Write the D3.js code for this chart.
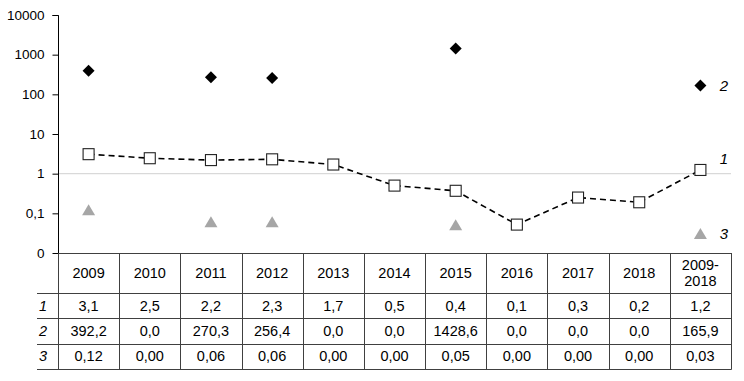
<!DOCTYPE html>
<html><head><meta charset="utf-8">
<script src="https://cdn.jsdelivr.net/npm/d3@7"></script>
<style>body{margin:0;background:#fff;} text{font-family:"Liberation Sans",Arial,sans-serif;}</style>
</head><body>
<svg id="c" width="744" height="381"></svg>
<script>
const categories = ["2009","2010","2011","2012","2013","2014","2015","2016","2017","2018","2009-\n2018"];
const series1 = [3.1, 2.45, 2.2, 2.3, 1.7, 0.5, 0.37, 0.052, 0.25, 0.19, 1.24];
const series2 = [392.2, 0, 270.3, 256.4, 0, 0, 1428.6, 0, 0, 0, 165.9];
const series3 = [0.12, 0, 0.06, 0.06, 0, 0, 0.05, 0, 0, 0, 0.03];
const row1Text = ["3,1","2,5","2,2","2,3","1,7","0,5","0,4","0,1","0,3","0,2","1,2"];
const row2Text = ["392,2","0,0","270,3","256,4","0,0","0,0","1428,6","0,0","0,0","0,0","165,9"];
const row3Text = ["0,12","0,00","0,06","0,06","0,00","0,00","0,05","0,00","0,00","0,00","0,03"];
const yTicks = [0.01, 0.1, 1, 10, 100, 1000, 10000];
const yTickLabels = ["0","0,1","1","10","100","1000","10000"];
const seriesNames = ["1","2","3"];

const svg = d3.select("#c");
const x = d3.scaleBand().domain(categories).range([58, 731]);
const y = d3.scaleLog().domain([0.01, 10000]).range([253, 15]);
const cx = d => x(d) + x.bandwidth()/2;

// gridline at 1
svg.append("line").attr("x1",58).attr("x2",731).attr("y1",y(1)).attr("y2",y(1))
  .attr("stroke","#d9d9d9").attr("stroke-width",1.2);

// y axis
const yAxis = d3.axisLeft(y).tickValues(yTicks).tickSize(6).tickPadding(8)
  .tickFormat((d,i)=>yTickLabels[yTicks.indexOf(d)]);
const ga = svg.append("g").attr("transform","translate(58.5,0)").call(yAxis);
ga.select(".domain").attr("stroke","#000").attr("d","M-6,15.5H0V253.5");
ga.selectAll(".tick line").attr("stroke","#000");
ga.selectAll(".tick text").attr("font-size",13.5).attr("fill","#000")
  .attr("font-family","Liberation Sans, Arial, sans-serif");

// table
const tTop = 253, hH = 40, rH = 25.3;
const tab = svg.append("g").attr("stroke","#404040").attr("stroke-width",1);
const rowYs = [tTop, tTop+hH, tTop+hH+rH, tTop+hH+2*rH, tTop+hH+3*rH];
rowYs.forEach((ry,i)=>{
  tab.append("line").attr("x1", i===0?58:37).attr("x2",731.5)
    .attr("y1",Math.round(ry)+0.5).attr("y2",Math.round(ry)+0.5);
});
const bounds = categories.map(c=>x(c)).concat([731]);
bounds.forEach(bx=>{
  tab.append("line").attr("x1",Math.round(bx)+0.5).attr("x2",Math.round(bx)+0.5)
    .attr("y1",tTop).attr("y2",Math.round(rowYs[4])+0.5);
});
// header text
categories.forEach(c=>{
  const parts = c.split("\n");
  const t = svg.append("text").attr("x",cx(c)).attr("text-anchor","middle")
    .attr("font-size",14.5).attr("fill","#000");
  if(parts.length===1){
    t.attr("y",tTop+hH/2+5).text(parts[0]);
  } else {
    parts.forEach((p,i)=>t.append("tspan").attr("x",cx(c)).attr("y",tTop+hH/2-3+i*16).text(p));
  }
});
[row1Text,row2Text,row3Text].forEach((row,ri)=>{
  const ry = rowYs[ri+1] + rH/2 + 5;
  svg.append("text").attr("x",43).attr("y",ry).attr("text-anchor","middle")
    .attr("font-size",14.5).attr("font-style","italic").attr("fill","#000").text(seriesNames[ri]);
  row.forEach((v,i)=>{
    svg.append("text").attr("x",cx(categories[i])).attr("y",ry).attr("text-anchor","middle")
      .attr("font-size",14.5).attr("fill","#000").text(v);
  });
});

// series 1 dashed line
const pts1 = categories.map((c,i)=>({c, v:series1[i]}));
svg.append("path").datum(pts1)
  .attr("d", d3.line().x(d=>cx(d.c)).y(d=>y(d.v)))
  .attr("fill","none").attr("stroke","#000").attr("stroke-width",1.6).attr("stroke-dasharray","6,4");
svg.selectAll(".sq").data(pts1).enter().append("rect")
  .attr("x",d=>cx(d.c)-5.5).attr("y",d=>y(d.v)-5.5).attr("width",11).attr("height",11)
  .attr("fill","#fff").attr("stroke","#222").attr("stroke-width",1.1);

// series 2 diamonds
const pts2 = categories.map((c,i)=>({c, v:series2[i]})).filter(d=>d.v>0);
svg.selectAll(".dm").data(pts2).enter().append("path")
  .attr("transform",d=>`translate(${cx(d.c)},${y(d.v)})`)
  .attr("d","M0,-6L6,0L0,6L-6,0Z").attr("fill","#000");

// series 3 triangles
const pts3 = categories.map((c,i)=>({c, v:series3[i]})).filter(d=>d.v>0);
svg.selectAll(".tr").data(pts3).enter().append("path")
  .attr("transform",d=>`translate(${cx(d.c)},${y(d.v)})`)
  .attr("d","M0,-6L6.5,5L-6.5,5Z").attr("fill","#a6a6a6");

// series labels at right
const lastI = categories.length-1;
[[series1,"1",-6],[series2,"2",5],[series3,"3",5]].forEach(([s,n,dy])=>{
  svg.append("text").attr("x",724).attr("y",y(s[lastI])+dy).attr("text-anchor","middle")
    .attr("font-size",15).attr("font-style","italic").attr("fill","#000").text(n);
});
</script>
</body></html>
